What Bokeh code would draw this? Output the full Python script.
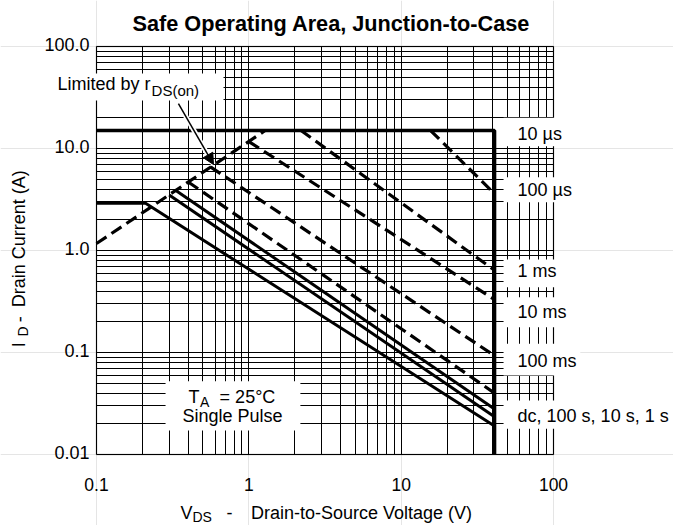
import math
from bokeh.plotting import figure
from bokeh.models import (FixedTicker, Label, BoxAnnotation, Arrow, NormalHead, Grid)
from bokeh.embed import file_html
from bokeh.resources import INLINE

FONT = "Liberation Sans"

# ---------------- data ----------------
X_TICKS = [0.1, 1, 10, 100]
X_TICK_LABELS = ["0.1", "1", "10", "100"]
Y_TICKS = [0.01, 0.1, 1, 10, 100]
Y_TICK_LABELS = ["0.01", "0.1", "1.0", "10.0", "100.0"]

# Limited by rDS(on)
V_RDS = [0.1, 1.28]
I_RDS = [1.17, 15.0]
# 10 us (package limit + BV limit)
V_10US = [0.1, 41, 41]
I_10US = [15.0, 15.0, 0.01]
V_100US = [15.6, 41]
I_100US = [15.0, 3.6]
V_1MS = [2.2, 41]
I_1MS = [15.0, 0.64]
V_10MS = [1.0, 41]
I_10MS = [11.7, 0.33]
V_100MS = [0.56, 41]
I_100MS = [6.6, 0.093]
V_1S = [0.40, 41]
I_1S = [4.7, 0.040]
V_10S = [0.33, 41]
I_10S = [3.9, 0.028]
V_100S = [0.30, 41]
I_100S = [3.5, 0.0235]
V_DC = [0.1, 0.21, 41]
I_DC = [2.9, 2.9, 0.019]

CURVE_LABELS = ["10 \u00b5s", "100 \u00b5s", "1 ms", "10 ms", "100 ms", "dc, 100 s, 10 s, 1 s"]
CURVE_LABEL_Y = [12.1, 3.42, 0.55, 0.2145, 0.0721, 0.0208]
CURVE_BOX_BOTTOM = [10.5, 2.97, 0.437, 0.177, 0.0595, 0.0179]
CURVE_BOX_TOP = [20.0, 5.23, 0.816, 0.348, 0.1217, 0.0339]
CURVE_LABEL_X = 58.1
CURVE_BOX_LEFT = 47.0

X_MIN, X_MAX = 0.1, 100.0
Y_MIN, Y_MAX = 0.01, 100.0

# ---------------- layout (pixels) ----------------
W, H = 673, 525
BOX_L, BOX_R, BOX_T, BOX_B = 96, 553, 46, 454
DX = (BOX_R - BOX_L) / (math.log10(X_MAX) - math.log10(X_MIN))
DY = (BOX_B - BOX_T) / (math.log10(Y_MAX) - math.log10(Y_MIN))
x_range = (10 ** (math.log10(X_MIN) - BOX_L / DX), 10 ** (math.log10(X_MAX) + (W - BOX_R) / DX))
y_range = (10 ** (math.log10(Y_MIN) - (H - BOX_B) / DY), 10 ** (math.log10(Y_MAX) + BOX_T / DY))

p = figure(x_axis_type="log", y_axis_type="log", x_range=x_range, y_range=y_range,
           width=W, height=H, output_backend="svg", toolbar_location=None,
           x_axis_location=None, y_axis_location=None, min_border=0,
           background_fill_color="white", border_fill_color="white")
p.outline_line_color = None

def minors(lo, hi):
    out = []
    for e in range(lo, hi):
        for m in range(2, 10):
            out.append(m * 10.0 ** e)
    return out

x_ticker = FixedTicker(ticks=X_TICKS, minor_ticks=minors(-1, 2))
y_ticker = FixedTicker(ticks=Y_TICKS, minor_ticks=minors(-2, 2))

has_cross = "cross_bounds" in Grid.properties()
for dim, tk, b, cb in ((0, x_ticker, (X_MIN, X_MAX), (Y_MIN, Y_MAX)),
                       (1, y_ticker, (Y_MIN, Y_MAX), (X_MIN, X_MAX))):
    kw = dict(dimension=dim, ticker=tk, bounds=b,
              grid_line_color="black", grid_line_width=1, grid_line_alpha=1.0,
              minor_grid_line_color="black", minor_grid_line_width=1, minor_grid_line_alpha=1.0)
    if has_cross:
        kw["cross_bounds"] = cb
    p.add_layout(Grid(**kw))

# plot box outline
p.add_layout(BoxAnnotation(left=X_MIN, right=X_MAX, bottom=Y_MIN, top=Y_MAX,
                           fill_color=None, line_color="black", line_width=1.5, level="underlay"))

# ---------------- white boxes behind the texts ----------------
def wbox(left, right, bottom, top):
    p.add_layout(BoxAnnotation(left=left, right=right, bottom=bottom, top=top,
                               fill_color="white", fill_alpha=1.0, line_color=None,
                               level="underlay"))

for bb, bt in zip(CURVE_BOX_BOTTOM, CURVE_BOX_TOP):
    wbox(CURVE_BOX_LEFT, 150, bb, bt)
wbox(0.07, 0.682, 29.5, 54.4)      # "Limited by" box
wbox(0.284, 2.18, 0.0172, 0.0523)  # "TA = 25 C" box

# ---------------- curves ----------------
DASH = "12 6"
p.line(V_10US, I_10US, line_color="black", line_width=3.6)
p.line(V_DC, I_DC, line_color="black", line_width=3)
p.line(V_100S, I_100S, line_color="black", line_width=3)
p.line(V_10S, I_10S, line_color="black", line_width=3)
p.line(V_1S, I_1S, line_color="black", line_width=3.2, line_dash=DASH)
p.line(V_100MS, I_100MS, line_color="black", line_width=3.2, line_dash=DASH)
p.line(V_10MS, I_10MS, line_color="black", line_width=3.2, line_dash=DASH)
p.line(V_1MS, I_1MS, line_color="black", line_width=3.2, line_dash=DASH)
p.line(V_100US, I_100US, line_color="black", line_width=3.2, line_dash=DASH)
p.line(V_RDS, I_RDS, line_color="black", line_width=3.2, line_dash=DASH)

# ---------------- texts ----------------
BASE_SHIFT = 0.36  # baseline correction, in em

def lab(x, y, text, size=18.0, align="left", angle=0.0, xo=0.0, yo=0.0, style="normal"):
    if angle == 0.0:
        yo = yo + BASE_SHIFT * size
    else:
        xo = xo - BASE_SHIFT * size
    p.add_layout(Label(x=x, y=y, text=text, text_font=FONT, text_font_size=f"{size}px",
                       text_align=align, text_baseline="alphabetic", angle=angle,
                       x_offset=xo, y_offset=yo, text_color="black",
                       text_font_style=style))

# title
lab(0.1723, 140.3, "Safe Operating Area, Junction-to-Case", size=21.7, style="bold")

# tick labels
for t, s in zip(X_TICKS, X_TICK_LABELS):
    lab(t, Y_MIN, s, size=17.5, align="center", yo=-36)
for t, s in zip(Y_TICKS, Y_TICK_LABELS):
    lab(X_MIN, t, s, size=18.0, align="right", xo=-7, yo=-4.5)

# curve labels
for t, y in zip(CURVE_LABELS, CURVE_LABEL_Y):
    lab(CURVE_LABEL_X, y, t)

# Limited by rDS(on) + arrow
lab(0.2264, 37.0, "Limited by r", align="right")
lab(0.2264, 32.7, "DS(on)", size=15.0, xo=1)
p.add_layout(Arrow(end=None, x_start=0.345, y_start=27.6, x_end=0.586, y_end=6.97,
                   line_color="white", line_width=5))
p.add_layout(Arrow(end=NormalHead(size=11, fill_color="black", line_color="black", line_width=1),
                   x_start=0.345, y_start=27.6, x_end=0.586, y_end=6.97,
                   line_color="black", line_width=1.5))

# TA = 25 C, Single Pulse
lab(0.4024, 0.0316, "T")
lab(0.4024, 0.0316, "A", size=14.0, xo=11.5, yo=-4)
lab(0.4024, 0.0316, "= 25\u00b0C", xo=31)
lab(0.781, 0.0208, "Single Pulse", align="center")

# axis titles
X_TITLE_Y = 0.00231
lab(0.356, X_TITLE_Y, "V")
lab(0.4266, X_TITLE_Y, "DS", size=14.0, yo=-2.5)
lab(0.746, X_TITLE_Y, "-", align="center")
lab(5.49, X_TITLE_Y, "Drain-to-Source Voltage (V)", align="center")

HALF_PI = math.pi / 2
lab(0.0342, 0.1127, "I", angle=HALF_PI)
lab(0.0342, 0.1435, "D", size=14.0, angle=HALF_PI, xo=3)
lab(0.0342, 0.212, "-", align="center", angle=HALF_PI)
lab(0.0342, 1.302, "Drain Current (A)", align="center", angle=HALF_PI)

open("out.html", "w").write(file_html(p, INLINE))
